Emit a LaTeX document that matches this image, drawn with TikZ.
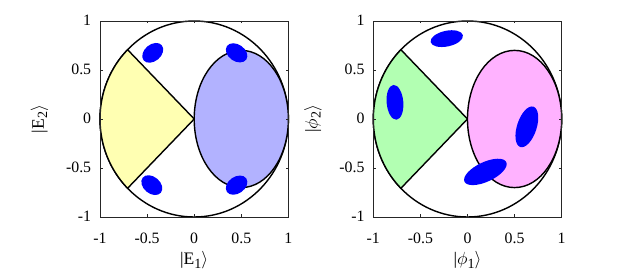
\documentclass[tikz,border=0pt]{standalone}
\usepackage{fontspec}
\setmainfont{Liberation Serif}
\usepackage{xcolor}
\usepackage{tikz}
\usetikzlibrary{positioning}

\definecolor{sectyellow}{RGB}{255,255,178}
\definecolor{ellblue}{RGB}{178,178,255}
\definecolor{sectgreen}{RGB}{178,255,178}
\definecolor{ellpink}{RGB}{255,178,255}
\definecolor{blobblue}{RGB}{0,0,255}

\newcommand{\lowidx}[1]{\raisebox{-0.4ex}{\fontsize{8}{8}\selectfont #1}}

\begin{document}
\begin{tikzpicture}[
  frame/.style={draw=black!85, line width=0.5pt},
  curve/.style={draw=black, line width=0.8pt},
  blob/.style={fill=blobblue},
  ticklab/.style={font=\fontsize{9}{9}\selectfont, inner sep=0pt},
  axlab/.style={font=\fontsize{10}{10}\selectfont, inner sep=0pt},
]

\useasboundingbox[fill=white] (0,0) rectangle (12.4,5.58);

%% Left panel: energy basis
\begin{scope}[shift={(3.884,3.2)}, x=1.884cm, y=1.96cm]
  \draw[curve] (0,0) circle (1);
  \draw[curve, fill=sectyellow] (0,0) -- (135:1) arc[start angle=135, end angle=225, radius=1] -- cycle;
  \draw[curve, fill=ellblue] (0.5,0) ellipse (0.5 and 0.7);

  \fill[blob, rotate around={40:(-0.44,0.675)}] (-0.44,0.675) ellipse (0.125 and 0.085);
  \fill[blob, rotate around={-35:(0.45,0.675)}] (0.45,0.675) ellipse (0.125 and 0.085);
  \fill[blob, rotate around={-40:(-0.45,-0.675)}] (-0.45,-0.675) ellipse (0.125 and 0.085);
  \fill[blob, rotate around={35:(0.45,-0.675)}] (0.45,-0.675) ellipse (0.125 and 0.085);

  \draw[frame] (-1,-1) rectangle (1,1);
  \foreach \t in {-0.5,0,0.5} {
    \draw[frame] (\t,-1) -- ++(0,0.05cm);
    \draw[frame] (\t,1) -- ++(0,-0.05cm);
    \draw[frame] (-1,\t) -- ++(0.05cm,0);
    \draw[frame] (1,\t) -- ++(-0.05cm,0);
  }
  \foreach \t [count=\i] in {-1,-0.5,0,0.5,1} {
    \node[ticklab, anchor=base] (ex\i) at ([yshift=-0.54cm]\t,-1) {\t};
    \node[ticklab, anchor=base east] (ey\i) at ([xshift=-0.17cm, yshift=-0.1cm]-1,\t) {\t};
  }
  \node[axlab, anchor=base] (exlab) at ([yshift=-0.96cm]0,-1) {|E\lowidx{1}$\rangle$};
  \node[axlab, anchor=base, rotate=90] (eylab) at ([xshift=-1.12cm]-1,0) {|E\lowidx{2}$\rangle$};
\end{scope}

%% Right panel: phi basis
\begin{scope}[shift={(9.35,3.2)}, x=1.884cm, y=1.96cm]
  \draw[curve] (0,0) circle (1);
  \draw[curve, fill=sectgreen] (0,0) -- (135:1) arc[start angle=135, end angle=225, radius=1] -- cycle;
  \draw[curve, fill=ellpink] (0.5,0) ellipse (0.5 and 0.7);

  \fill[blob, rotate around={12:(-0.22,0.82)}] (-0.22,0.82) ellipse (0.175 and 0.08);
  \fill[blob, rotate around={95:(-0.77,0.17)}] (-0.77,0.17) ellipse (0.185 and 0.085);
  \fill[blob, rotate around={72:(0.63,-0.08)}] (0.63,-0.08) ellipse (0.225 and 0.1);
  \fill[blob, rotate around={25:(0.19,-0.54)}] (0.19,-0.54) ellipse (0.245 and 0.1);

  \draw[frame] (-1,-1) rectangle (1,1);
  \foreach \t in {-0.5,0,0.5} {
    \draw[frame] (\t,-1) -- ++(0,0.05cm);
    \draw[frame] (\t,1) -- ++(0,-0.05cm);
    \draw[frame] (-1,\t) -- ++(0.05cm,0);
    \draw[frame] (1,\t) -- ++(-0.05cm,0);
  }
  \foreach \t [count=\i] in {-1,-0.5,0,0.5,1} {
    \node[ticklab, anchor=base] (px\i) at ([yshift=-0.54cm]\t,-1) {\t};
    \node[ticklab, anchor=base east] (py\i) at ([xshift=-0.17cm, yshift=-0.1cm]-1,\t) {\t};
  }
  \node[axlab, anchor=base] (pxlab) at ([yshift=-0.96cm]0,-1) {|$\phi$\lowidx{1}$\rangle$};
  \node[axlab, anchor=base, rotate=90] (pylab) at ([xshift=-1.12cm]-1,0) {|$\phi$\lowidx{2}$\rangle$};
\end{scope}

\end{tikzpicture}
\end{document}
